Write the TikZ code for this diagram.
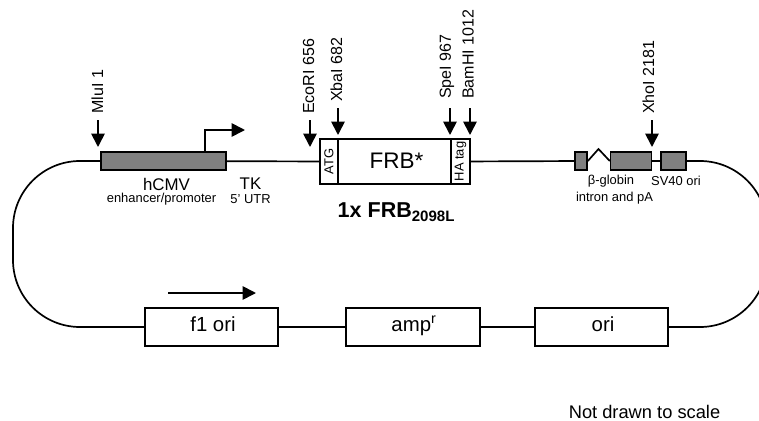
\documentclass[tikz,border=0pt]{standalone}
\usepackage{fontspec}
\setmainfont{Liberation Sans}
\usetikzlibrary{arrows.meta}
\tikzset{
  wire/.style={line width=1.2pt},
  site/.style={line width=1.2pt,-{Triangle[length=9.5pt,width=9.5pt]}},
  grey box/.style={draw,line width=1.2pt,fill=black!50,minimum height=13pt,inner sep=0pt},
  white box/.style={draw,line width=1.2pt,fill=white,inner sep=0pt},
  site label/.style={rotate=90,anchor=west,font=\fontsize{11.4}{13}\selectfont,inner sep=0pt},
  big label/.style={font=\fontsize{12}{14}\selectfont,inner sep=0pt},
  small label/.style={font=\fontsize{9.2}{11}\selectfont,inner sep=0pt},
  box label/.style={anchor=base,font=\fontsize{14.5}{17}\selectfont,inner sep=0pt},
}
\begin{document}
\begin{tikzpicture}[x=0.025cm,y=-0.025cm]
\useasboundingbox (0,0) rectangle (759,421);
% top row
\node[grey box,minimum width=89pt] (cmv) at (163.5,161) {};
\node[white box,minimum width=12.8pt,minimum height=32pt] (atg) at (329,161.5) {};
\node[white box,minimum width=80pt,minimum height=32pt] (frb) at (394.5,161.5) {};
\node[white box,minimum width=13.5pt,minimum height=32pt] (ha) at (460.5,161.5) {};
\node[rotate=90,small label] (atgtext) at (atg) {ATG};
\node[font=\fontsize{16}{19}\selectfont,inner sep=0pt] (frbtext) at (396.5,161) {FRB*};
\node[rotate=90,small label] (hatext) at (ha) {HA tag};
\node[grey box,minimum width=8.5pt] (ex1) at (581,161) {};
\node[grey box,minimum width=29pt] (ex2) at (631,161) {};
\node[grey box,minimum width=18pt] (sv) at (673.5,161) {};
% bottom row
\node[white box,minimum width=95pt,minimum height=27pt] (f1) at (211.5,327) {};
\node[white box,minimum width=95pt,minimum height=27pt] (amp) at (413,327) {};
\node[white box,minimum width=95pt,minimum height=27pt] (ori) at (601.5,327) {};
\node[box label] (f1text) at (213,331) {f1 ori};
\node[box label] (amptext) at (414,331) {amp\textsuperscript{r}};
\node[box label] (oritext) at (603,331) {ori};
% backbone
\draw[wire] (cmv) -- (atg);
\draw[wire] (ha) -- (ex1);
\draw[wire] (ex2) -- (sv);
\draw[wire] (f1) -- (amp);
\draw[wire] (amp) -- (ori);
\draw[wire] (ex1.east) -- (598.5,149) -- (ex2.west);
\draw[wire] (cmv.west) -- (80,161) .. controls (43,161) and (13,191) .. (13,228) -- (13,260) .. controls (13,297) and (43,327) .. (80,327) -- (f1.west);
\draw[wire] (sv.east) -- (700,161) .. controls (737,161) and (767,191) .. (767,228) -- (767,260) .. controls (767,297) and (737,327) .. (700,327) -- (ori.east);
% promoter arrow
\coordinate (tss) at (205,152);
\draw[site] (cmv.north -| tss) |- (245,130);
\coordinate (dirstart) at (168,293);
\coordinate (dirend) at (256,293);
\draw[site] (dirstart) -- (dirend);
% sites
\coordinate (mlu) at (98,120);
\coordinate (eco) at (310,120);
\coordinate (xba) at (338,108);
\coordinate (spe) at (450,108);
\coordinate (bam) at (470,108);
\coordinate (xho) at (652,120);
\draw[site] (mlu) -- (98,147);
\draw[site] (eco) -- (310,147);
\draw[site] (xba) -- (338,135);
\draw[site] (spe) -- (450,135);
\draw[site] (bam) -- (470,135);
\draw[site] (xho) -- (652,147);
\node[site label] (mlutext) at (97.5,114) {MluI 1};
\node[site label] (ecotext) at (308.5,114) {EcoRI 656};
\node[site label] (xbatext) at (336.5,102) {XbaI 682};
\node[site label] (spetext) at (447,99) {SpeI 967};
\node[site label] (bamtext) at (468,99) {BamHI 1012};
\node[site label] (xhotext) at (648.5,114) {XhoI 2181};
% labels
\node[big label] (cmvtext) at (166.5,184) {hCMV};
\node[small label] (cmvsub) at (161.5,199) {enhancer/promoter};
\node[big label] (tktext) at (250.5,184) {TK};
\node[small label] (tksub) at (250.5,199) {5' UTR};
\node[big label,font=\fontsize{15.3}{18}\selectfont\bfseries] (name) at (396.5,212) {1x FRB\textsubscript{2098L}};
\node[small label] (globin) at (611,181) {β-globin};
\node[small label] (intron) at (614.5,198) {intron and pA};
\node[small label] (svtext) at (676,181) {SV40 ori};
\node[inner sep=0pt,font=\fontsize{13}{15}\selectfont] (note) at (644.5,412) {Not drawn to scale};
\end{tikzpicture}
\end{document}
